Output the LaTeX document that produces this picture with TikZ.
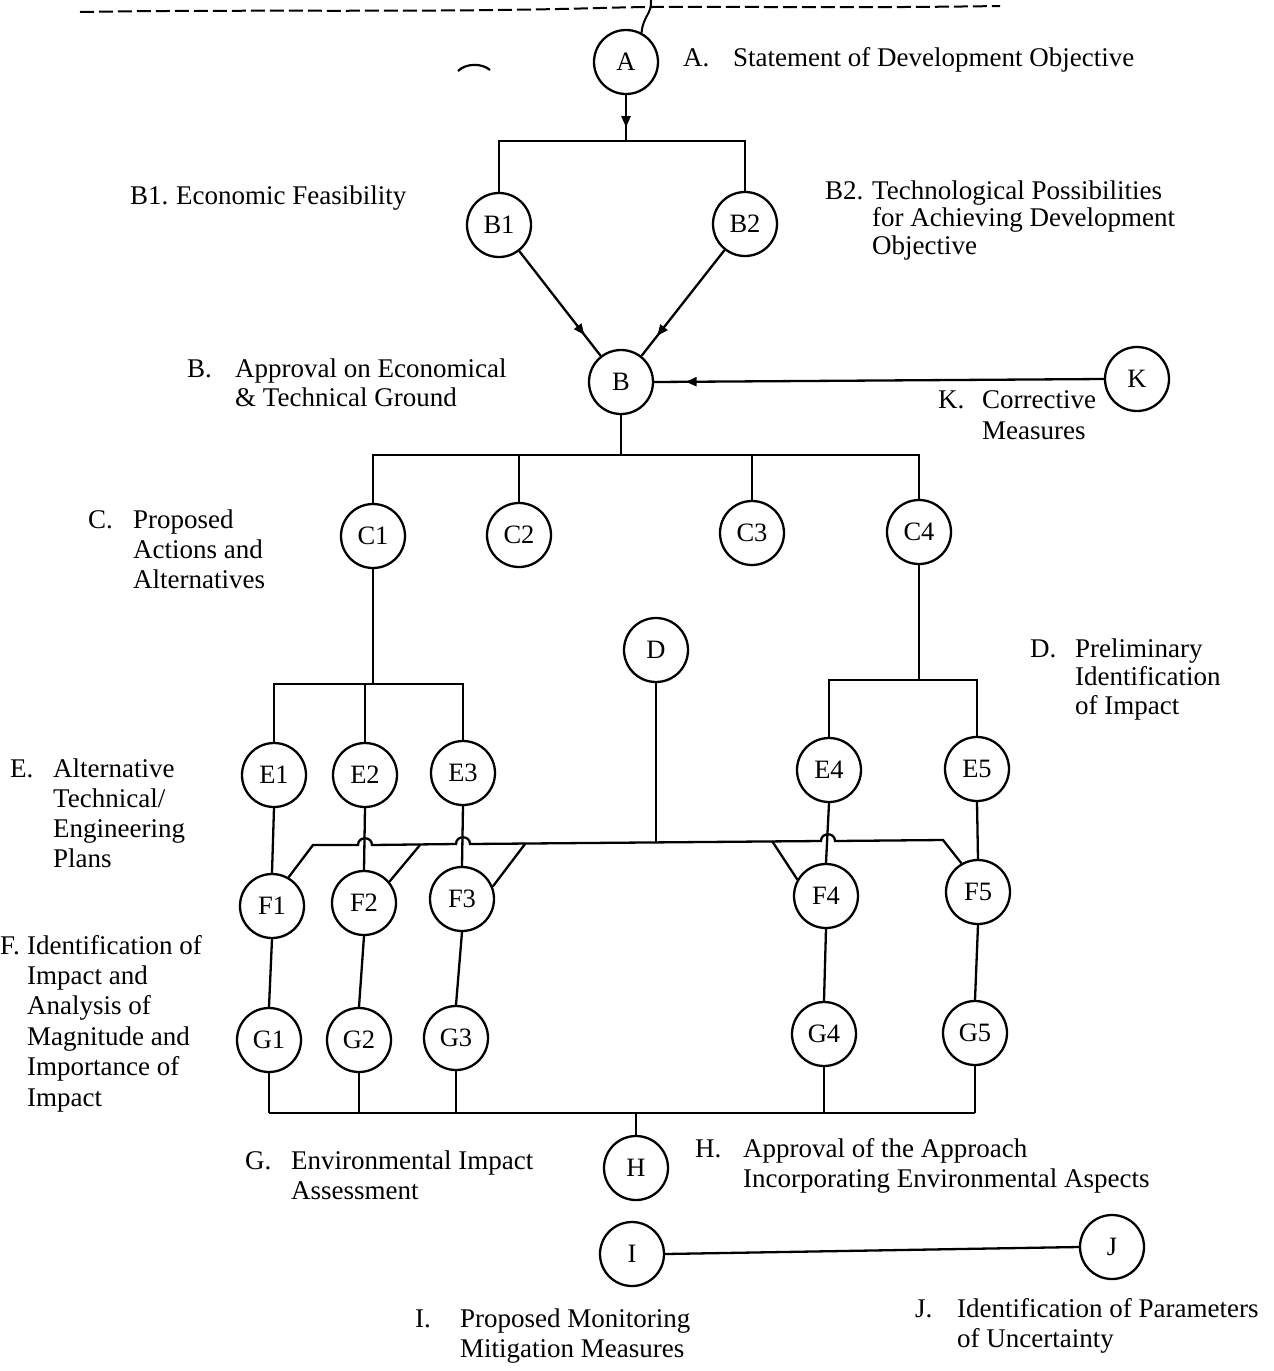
\documentclass[tikz,border=0pt]{standalone}
\usepackage{fontspec}
\setmainfont{Liberation Serif}
\usetikzlibrary{arrows.meta,decorations.markings}

\tikzset{
  stage/.style={circle, draw, line width=2.3pt, minimum size=64pt, inner sep=0pt,
    text height=17.5pt, text depth=0pt, font=\fontsize{26.5}{28}\selectfont},
  link/.style={line width=2.3pt},
  % multi-line texts are anchored on the baseline of their last line
  lab/.style={anchor=base west, inner sep=0pt, align=left,
    font=\fontsize{27}{30}\selectfont},
  midarrow/.style={postaction={decorate}, decoration={markings,
    mark=at position #1 with {\arrow{Triangle[length=11pt,width=9pt]}}}},
}

\begin{document}
\begin{tikzpicture}[x=1pt,y=-1pt]
\useasboundingbox (0,0) rectangle (1274,1371);

% ---- stages ----
\node[stage] (A)  at (626,62)   {A};
\node[stage] (B1) at (499,225)  {B1};
\node[stage] (B2) at (745,224)  {B2};
\node[stage] (B)  at (621,382)  {B};
\node[stage] (K)  at (1137,379) {K};
\node[stage] (C1) at (373,536)  {C1};
\node[stage] (C2) at (519,535)  {C2};
\node[stage] (C3) at (752,533)  {C3};
\node[stage] (C4) at (919,532)  {C4};
\node[stage] (D)  at (656,650)  {D};
\node[stage] (E1) at (274,775)  {E1};
\node[stage] (E2) at (365,775)  {E2};
\node[stage] (E3) at (463,773)  {E3};
\node[stage] (E4) at (829,770)  {E4};
\node[stage] (E5) at (977,769)  {E5};
\node[stage] (F1) at (272,906)  {F1};
\node[stage] (F2) at (364,903)  {F2};
\node[stage] (F3) at (462,899)  {F3};
\node[stage] (F4) at (826,896)  {F4};
\node[stage] (F5) at (978,892)  {F5};
\node[stage] (G1) at (269,1040) {G1};
\node[stage] (G2) at (359,1040) {G2};
\node[stage] (G3) at (456,1038) {G3};
\node[stage] (G4) at (824,1034) {G4};
\node[stage] (G5) at (975,1033) {G5};
\node[stage] (H)  at (636,1168) {H};
\node[stage] (I)  at (632,1254) {I};
\node[stage] (J)  at (1112,1247) {J};

% ---- junction points ----
\coordinate (jA) at (626,141);
\coordinate (jC) at (621,455);
\coordinate (jEl) at (373,684);
\coordinate (jEr) at (919,680);
\coordinate (jD) at (656,843);
\coordinate (jG) at (636,1113);

% ---- A to B1 / B2 ----
\draw[link, midarrow=0.7] (A.south) -- (jA);
\draw[link] (B1.north) -- (B1.north |- jA) -- (B2.north |- jA) -- (B2.north);

% ---- B1, B2, K into B ----
\draw[link, midarrow=0.8] (B1) -- (B);
\draw[link, midarrow=0.81] (B2) -- (B);
\draw[link, midarrow=0.93] (K.west) -- (B.east);

% ---- B to the C alternatives ----
\draw[link] (B.south) -- (jC);
\draw[link] (C1.north) -- (C1.north |- jC) -- (C4.north |- jC) -- (C4.north);
\draw[link] (C2.north) -- (C2.north |- jC);
\draw[link] (C3.north) -- (C3.north |- jC);

% ---- C1 and C4 to the E plans ----
\draw[link] (C1.south) -- (jEl);
\draw[link] (E1.north) -- (E1.north |- jEl) -- (E3.north |- jEl) -- (E3.north);
\draw[link] (E2.north) -- (E2.north |- jEl);
\draw[link] (C4.south) -- (jEr);
\draw[link] (E4.north) -- (E4.north |- jEr) -- (E5.north |- jEr) -- (E5.north);

% ---- E to F to G ----
\foreach \n in {1,...,5} {
  \draw[link] (E\n.south) -- (F\n.north);
  \draw[link] (F\n.south) -- (G\n.north);
}

% ---- D and the impact bus feeding every F ----
\draw[link] (D.south) -- (jD);
\draw[link] (F1.60) -- (313,845) -- (358,845)
  .. controls (358,836) and (372,836) .. (372,845)
  -- (456,844)
  .. controls (456,835) and (470,835) .. (470,844)
  -- (821,841)
  .. controls (821,832) and (835,832) .. (835,841)
  -- (943,840) -- (F5.120);
\draw[link] (F2.40) -- (420,845);
\draw[link] (F3.22) -- (525,844);
\draw[link] (F4.150) -- (772,841);

% ---- G to H ----
\foreach \n in {1,...,5} {
  \draw[link] (G\n.south) -- (G\n.south |- jG);
}
\draw[link] (G1.south |- jG) -- (G5.south |- jG);
\draw[link] (jG) -- (H.north);

% ---- I to J ----
\draw[link] (I.east) -- (J.west);

% ---- marks at the top edge ----
\draw[line width=2pt, dash pattern=on 14pt off 5pt]
  (80,12) .. controls (250,9) and (420,13) .. (600,8)
  .. controls (700,5) and (800,9) .. (1000,6);
\draw[line width=2pt] (651,0) .. controls (652,14) and (643,16) .. (A.62);
\draw[line width=2.2pt] (458,71) .. controls (466,63) and (482,63) .. (490,70);

% ---- stage descriptions ----
\node[lab] (tA0) at (683,66) {A.};
\node[lab] (tA)  at (733,66) {Statement of Development Objective};
\node[lab] (tB10) at (130,204) {B1.};
\node[lab] (tB1)  at (176,204) {Economic Feasibility};
\node[lab] (tB20) at (825,199) {B2.};
\node[lab, font=\fontsize{27}{27.5}\selectfont] (tB2) at (872,254)
  {Technological Possibilities\\for Achieving Development\\Objective};
\node[lab] (tB0) at (187,377) {B.};
\node[lab, font=\fontsize{27}{29}\selectfont] (tB) at (235,406)
  {Approval on Economical\\\& Technical Ground};
\node[lab] (tK0) at (938,408) {K.};
\node[lab, font=\fontsize{27}{31}\selectfont] (tK) at (982,439)
  {Corrective\\Measures};
\node[lab] (tC0) at (88,528) {C.};
\node[lab] (tC)  at (133,588) {Proposed\\Actions and\\Alternatives};
\node[lab] (tD0) at (1030,657) {D.};
\node[lab, font=\fontsize{27}{28.5}\selectfont] (tD) at (1075,714)
  {Preliminary\\Identification\\of Impact};
\node[lab] (tE0) at (10,777) {E.};
\node[lab] (tE)  at (53,867) {Alternative\\Technical/\\Engineering\\Plans};
\node[lab] (tF0) at (0,954) {F.};
\node[lab, font=\fontsize{27}{30.4}\selectfont] (tF) at (27,1106)
  {Identification of\\Impact and\\Analysis of\\Magnitude and\\Importance of\\Impact};
\node[lab] (tG0) at (245,1169) {G.};
\node[lab] (tG)  at (291,1199) {Environmental Impact\\Assessment};
\node[lab] (tH0) at (695,1157) {H.};
\node[lab] (tH)  at (743,1187) {Approval of the Approach\\Incorporating Environmental Aspects};
\node[lab] (tI0) at (415,1327) {I.};
\node[lab] (tI)  at (460,1357) {Proposed Monitoring\\Mitigation Measures};
\node[lab] (tJ0) at (915,1317) {J.};
\node[lab] (tJ)  at (957,1347) {Identification of Parameters\\of Uncertainty};
\end{tikzpicture}
\end{document}
